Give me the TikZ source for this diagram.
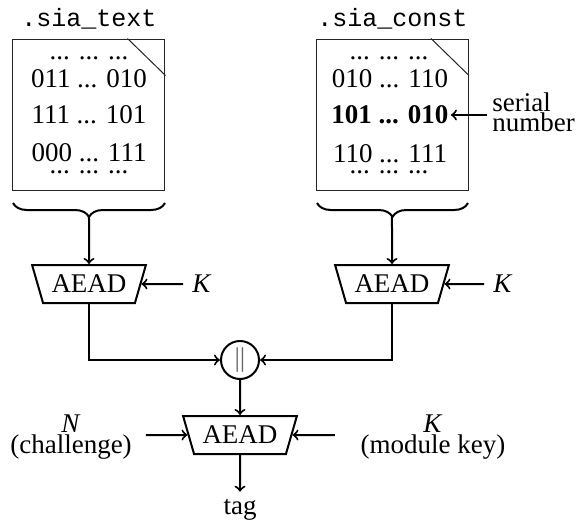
\documentclass[tikz,border=0pt]{standalone}
\usepackage{fontspec}
\setmainfont{Liberation Serif}
\setmonofont{Liberation Mono}
\usetikzlibrary{shapes.geometric,decorations.pathreplacing}
\begin{document}
\begin{tikzpicture}[x=0.5pt,y=-0.5pt,
  every node/.style={font=\fontsize{13.5}{16}\selectfont},
  lbl/.style={font=\fontsize{12.5}{14}\selectfont\ttfamily, anchor=base, inner sep=0pt},
  mem/.style={draw=black!85, line width=0.5pt, minimum width=76pt, minimum height=75.5pt, inner sep=0pt},
  rowtxt/.style={anchor=base, inner sep=1pt},
  aead/.style={draw, line width=1pt, trapezium, trapezium angle=63.43, shape border rotate=180, trapezium stretches=true, minimum width=57pt, minimum height=19pt, inner sep=0pt},
  keylbl/.style={inner xsep=4.5pt, inner ysep=0pt},
  conn/.style={draw, line width=1pt, ->},
  brc/.style={decorate, decoration={brace, mirror, amplitude=7pt}, line width=1pt},
  catnode/.style={draw, circle, line width=1pt, minimum size=19pt, inner sep=0pt},
  twoline/.style={align=center, font=\fontsize{13.5}{10.5}\selectfont, inner sep=0pt}
]
\useasboundingbox (0,0) rectangle (586,521);

% left memory block
\node[lbl] (l1) at (89,26) {.sia\_text};
\node[mem] (box1) at (89,114.5) {};
\draw[line width=0.5pt, black!85] ([xshift=-19pt]box1.north east) -- ([yshift=-18.5pt]box1.north east);
\node[rowtxt] (d1a) at (89,59.5) {... ... ...};
\node[rowtxt] (r1a) at (89,87) {011 ... 010};
\node[rowtxt] (r1b) at (89,123) {111 ... 101};
\node[rowtxt] (r1c) at (89,161) {000 ... 111};
\node[rowtxt] (d1b) at (89,173) {... ... ...};

% right memory block
\node[lbl] (l2) at (392.5,26) {.sia\_const};
\node[mem] (box2) at (392.5,114.5) {};
\draw[line width=0.5pt, black!85] ([xshift=-19pt]box2.north east) -- ([yshift=-18.5pt]box2.north east);
\node[rowtxt] (d2a) at (389,59.5) {... ... ...};
\node[rowtxt] (r2a) at (390,87) {010 ... 110};
\node[rowtxt] (r2b) at (390,123) {\textbf{101 ... 010}};
\node[rowtxt] (r2c) at (390,162) {110 ... 111};
\node[rowtxt] (d2b) at (389,173) {... ... ...};

% serial number
\node[anchor=west, align=left, inner sep=0pt, font=\fontsize{13.5}{10}\selectfont] (sn) at (492,112) {serial\\number};
\coordinate (snin) at (487,115);
\draw[conn] (snin) -- (snin -| r2b.east);

% braces
\coordinate (b1l) at (13,203);
\coordinate (b1r) at (165,203);
\draw[brc] (b1l) -- (b1r);
\coordinate (b1) at (89,217);
\coordinate (b2l) at (317,203);
\coordinate (b2r) at (468,203);
\draw[brc] (b2l) -- (b2r);
\coordinate (b2) at (392,217);

% first-level AEADs
\node[aead] (a1) at (89,284) {AEAD};
\node[aead] (a2) at (392,284) {AEAD};
\node[keylbl] (k1) at (202,284) {\textit{K}};
\node[keylbl] (k2) at (503,284) {\textit{K}};
\draw[conn] (b1) -- (a1);
\draw[conn] (b2) -- (a2);
\draw[conn] (k1) -- (a1);
\draw[conn] (k2) -- (a2);

% concatenation
\node[catnode] (cat) at (240,360) {\textcolor{black!60}{||}};
\draw[conn] (a1) |- (cat);
\draw[conn] (a2) |- (cat);

% final AEAD
\node[aead] (a3) at (240,435) {AEAD};
\draw[conn] (cat) -- (a3);
\node[twoline] (nl) at (71,437) {\textit{N}\\(challenge)};
\coordinate (nin) at (146,435);
\draw[conn] (nin) -- (a3);
\node[twoline] (ml) at (433,437) {\textit{K}\\(module key)};
\coordinate (min) at (335,435);
\draw[conn] (min) -- (a3);
\node[anchor=base] (tag) at (240,514) {tag};
\draw[conn] (a3) -- (tag);
\end{tikzpicture}
\end{document}
